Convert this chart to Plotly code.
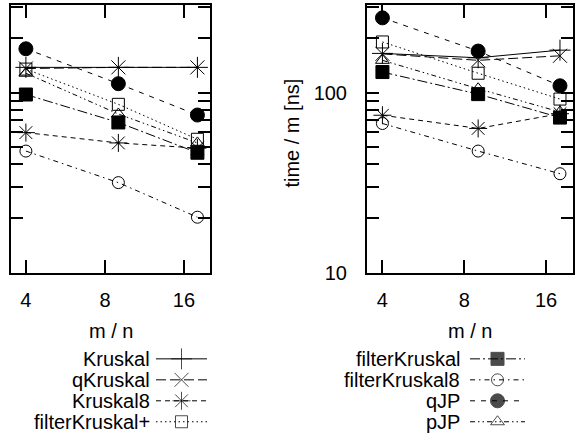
import math
import plotly.graph_objects as go

W, H = 582, 443

# ---------------- data ----------------
m_over_n = [4, 9, 18]

left_Kruskal = [138, 138, 138]
left_qKruskal = [136, 138, 138]
left_Kruskal8 = [59.9, 52.5, 49.1]
left_filterKruskalPlus = [135, 86, 55]
left_filterKruskal = [97.5, 68.2, 46.3]
left_filterKruskal8 = [47.3, 31.6, 20.3]
left_qJP = [175, 112, 75]
left_pJP = [128, 76, 52.5]

right_Kruskal = [165, 156, 172]
right_qKruskal = [164, 151, 160]
right_Kruskal8 = [74.8, 63.2, 76.3]
right_filterKruskalPlus = [191, 128, 92]
right_filterKruskal = [130, 98, 72.6]
right_filterKruskal8 = [67.3, 47.3, 35.4]
right_qJP = [260, 170, 109]
right_pJP = [151, 105, 78]

x_tick_vals = [4, 8, 16]
x_tick_text = ["4", "8", "16"]
y_tick_vals = [10, 20, 30, 40, 50, 60, 70, 80, 90, 100, 200, 300]
y_tick_text = ["10", "", "", "", "", "", "", "", "", "100", "", ""]

left_legend_names = ["Kruskal", "qKruskal", "Kruskal8", "filterKruskal+"]
right_legend_names = ["filterKruskal", "filterKruskal8", "qJP", "pJP"]

# ---------------- styles ----------------
FONT = "Liberation Sans, Arial, Helvetica, sans-serif"
FS = 20
style = {
    "Kruskal":        dict(symbol="cross-thin-open", size=15, dash="solid"),
    "qKruskal":       dict(symbol="x-thin-open", size=14, dash="10px,4px"),
    "Kruskal8":       dict(symbol="asterisk-open", size=15, dash="5px,4px"),
    "filterKruskal+": dict(symbol="square-open", size=12, dash="1.5px,3px"),
    "filterKruskal":  dict(symbol="square", size=13, dash="10px,3px,2px,3px"),
    "filterKruskal8": dict(symbol="circle-open", size=12, dash="5px,4px,1.5px,4px"),
    "qJP":            dict(symbol="circle", size=14, dash="5px,6px"),
    "pJP":            dict(symbol="triangle-up-open", size=12, dash="5px,3px,1.5px,3px,1.5px,3px"),
}

left_data = {
    "Kruskal": left_Kruskal, "qKruskal": left_qKruskal, "Kruskal8": left_Kruskal8,
    "filterKruskal+": left_filterKruskalPlus, "filterKruskal": left_filterKruskal,
    "filterKruskal8": left_filterKruskal8, "qJP": left_qJP, "pJP": left_pJP,
}
right_data = {
    "Kruskal": right_Kruskal, "qKruskal": right_qKruskal, "Kruskal8": right_Kruskal8,
    "filterKruskal+": right_filterKruskalPlus, "filterKruskal": right_filterKruskal,
    "filterKruskal8": right_filterKruskal8, "qJP": right_qJP, "pJP": right_pJP,
}

fig = go.Figure()


def add_series(name, ys, xa, ya):
    s = style[name]
    fig.add_trace(go.Scatter(
        x=m_over_n, y=ys, mode="lines+markers", name=name, showlegend=False,
        xaxis=xa, yaxis=ya,
        line=dict(color="black", width=1, dash=s["dash"]),
        marker=dict(symbol=s["symbol"], size=s["size"], color="black",
                    line=dict(color="black", width=1)),
        cliponaxis=False,
    ))


for nm, ys in left_data.items():
    add_series(nm, ys, "x", "y")
for nm, ys in right_data.items():
    add_series(nm, ys, "x2", "y2")


# legend keys drawn on helper axes
def add_key(name, row, xa):
    s = style[name]
    fig.add_trace(go.Scatter(
        x=[0, 0.5, 1], y=[row, row, row], mode="lines+markers", showlegend=False,
        xaxis=xa, yaxis="y3", hoverinfo="skip",
        line=dict(color="black", width=1, dash=s["dash"]),
        marker=dict(symbol=s["symbol"], size=[0, s["size"], 0], color="black",
                    line=dict(color="black", width=1)),
        cliponaxis=False,
    ))


annotations = []
for i, nm in enumerate(left_legend_names):
    add_key(nm, i, "x3")
    annotations.append(dict(text=nm, x=152 / W, xref="paper", xanchor="right",
                            y=i, yref="y3", yanchor="middle", showarrow=False,
                            font=dict(family=FONT, size=FS, color="black")))
for i, nm in enumerate(right_legend_names):
    add_key(nm, i, "x4")
    annotations.append(dict(text=nm, x=462 / W, xref="paper", xanchor="right",
                            y=i, yref="y3", yanchor="middle", showarrow=False,
                            font=dict(family=FONT, size=FS, color="black")))

# axis titles
for cx in (110.5, 470):
    annotations.append(dict(text="m / n", x=cx / W, xref="paper", xanchor="center",
                            y=1 - 339 / H, yref="paper", yanchor="middle", showarrow=False,
                            font=dict(family=FONT, size=FS, color="black")))
annotations.append(dict(text="time / m [ns]", textangle=-90, x=292 / W, xref="paper",
                        xanchor="center", y=1 - 137 / H, yref="paper", yanchor="middle",
                        showarrow=False, font=dict(family=FONT, size=FS, color="black")))

xr = [math.log10(3.51), math.log10(20.1)]
yr = [1, math.log10(305)]
ydom = [1 - 279.5 / H, 1 - 5.5 / H]

common_x = dict(type="log", range=xr, tickmode="array", tickvals=x_tick_vals,
                ticktext=x_tick_text, ticks="inside", ticklen=13, tickwidth=2,
                tickcolor="black", showline=True, linecolor="black", linewidth=2,
                mirror="ticks", showgrid=False, zeroline=False,
                tickfont=dict(family=FONT, size=FS, color="black"),
                ticklabelstandoff=8)
common_y = dict(type="log", range=yr, domain=ydom, tickmode="array",
                tickvals=y_tick_vals, ticktext=y_tick_text, ticks="inside",
                ticklen=12, tickwidth=2, tickcolor="black", showline=True,
                linecolor="black", linewidth=2, mirror="ticks", showgrid=False,
                zeroline=False, tickfont=dict(family=FONT, size=FS, color="black"))

hidden = dict(visible=False, showgrid=False, zeroline=False, fixedrange=True)
leg_dom = [0, 1 - 357.25 / H]
leg_range = [(443 - 368) / 21.5, -0.5]

fig.update_layout(
    width=W, height=H, margin=dict(l=0, r=0, t=0, b=0),
    paper_bgcolor="white", plot_bgcolor="white",
    showlegend=False,
    font=dict(family=FONT, size=FS, color="black"),
    xaxis=dict(domain=[11 / W, 210 / W], anchor="y", **common_x),
    yaxis=dict(anchor="x", showticklabels=False, **common_y),
    xaxis2=dict(domain=[367 / W, 573 / W], anchor="y2", **common_x),
    yaxis2=dict(anchor="x2", showticklabels=True, ticklabelstandoff=14, **common_y),
    xaxis3=dict(domain=[156 / W, 207 / W], range=[0, 1], anchor="y3", **hidden),
    xaxis4=dict(domain=[470 / W, 525 / W], range=[0, 1], anchor="y3", **hidden),
    yaxis3=dict(domain=leg_dom, range=leg_range, anchor="x3", **hidden),
    annotations=annotations,
)

fig.write_html("out.html")
